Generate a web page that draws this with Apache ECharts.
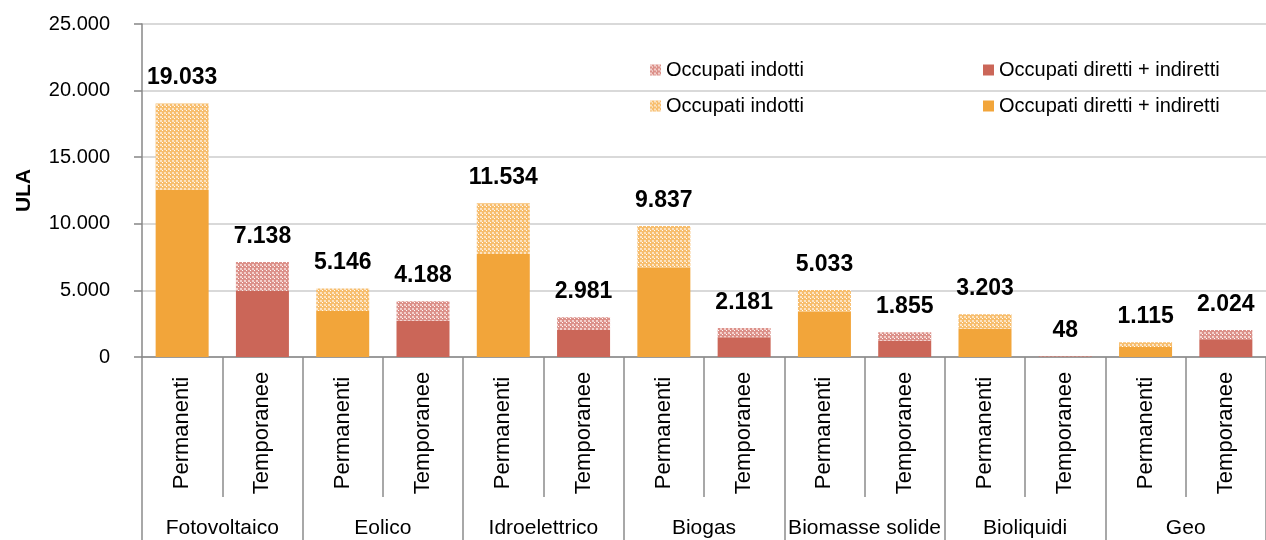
<!DOCTYPE html>
<html>
<head>
<meta charset="utf-8">
<script src="https://cdn.jsdelivr.net/npm/echarts@6/dist/echarts.min.js"></script>
<style>
  html, body { margin: 0; padding: 0; background: #fff; }
  #chart { width: 1266px; height: 540px; }
</style>
</head>
<body>
<div id="chart"></div>
<script>
// categorie
const tipi = ['Permanenti', 'Temporanee', 'Permanenti', 'Temporanee', 'Permanenti', 'Temporanee',
  'Permanenti', 'Temporanee', 'Permanenti', 'Temporanee', 'Permanenti', 'Temporanee', 'Permanenti', 'Temporanee'];
const fonti = ['Fotovoltaico', 'Eolico', 'Idroelettrico', 'Biogas', 'Biomasse solide', 'Bioliquidi', 'Geo'];

// totali (etichette) e occupati diretti + indiretti
const totali = [19033, 7138, 5146, 4188, 11534, 2981, 9837, 2181, 5033, 1855, 3203, 48, 1115, 2024];
const diretti = [12550, 4980, 3480, 2730, 7740, 2030, 6710, 1480, 3405, 1225, 2127, 30, 750, 1330];

const yTicks = [0, 5000, 10000, 15000, 20000, 25000];

const FONT = 'Liberation Sans';
const ARANCIO = '#F2A53A';
const ROSSO = '#CB6658';

// trama a scacchi per gli occupati indotti
function trama(base, chiaro) {
  const c = document.createElement('canvas');
  c.width = 4; c.height = 4;
  const ctx = c.getContext('2d');
  ctx.fillStyle = base;
  ctx.fillRect(0, 0, 4, 4);
  ctx.fillStyle = chiaro;
  ctx.fillRect(0, 0, 2, 2);
  ctx.fillStyle = '#ffffff';
  ctx.fillRect(2, 2, 1, 1);
  return { image: c, repeat: 'repeat' };
}

const fmt = n => String(n).replace(/\B(?=(\d{3})+(?!\d))/g, '.');

// divide i valori per tipo (Permanenti / Temporanee)
const perTipo = (arr, t) => arr.map((v, i) => tipi[i] === t ? v : '-');
const indotti = totali.map((v, i) => v - diretti[i]);

const nomi = {
  perm_dir: 'Occupati diretti + indiretti',
  perm_ind: 'Occupati indotti',
  temp_dir: 'Occupati diretti + indiretti',
  temp_ind: 'Occupati indotti'
};

const etichetta = {
  show: true,
  position: 'top',
  distance: 14,
  fontFamily: FONT,
  fontSize: 23,
  fontWeight: 'bold',
  color: '#000',
  formatter: p => fmt(totali[p.dataIndex])
};

const legenda = (nome, left, top) => ({
  data: [nome],
  left: left,
  top: top,
  itemWidth: 11,
  itemHeight: 11,
  icon: 'rect',
  formatter: n => nomi[n],
  textStyle: { fontFamily: FONT, fontSize: 20, color: '#000' }
});

const chart = echarts.init(document.getElementById('chart'));

const option = {
  animation: false,
  backgroundColor: '#fff',
  grid: { left: 142, right: 0, top: 24, bottom: 183, containLabel: false },
  legend: [
    legenda('temp_ind', 645, 55),
    legenda('temp_dir', 978, 55),
    legenda('perm_ind', 645, 91),
    legenda('perm_dir', 978, 91)
  ],
  xAxis: [
    {
      type: 'category',
      data: tipi,
      position: 'bottom',
      axisLine: { show: true, lineStyle: { color: '#878787', width: 1.5 } },
      axisTick: { show: true, alignWithLabel: false, interval: 0, length: 140, lineStyle: { color: '#8c8c8c', width: 1.5 } },
      axisLabel: {
        rotate: 90,
        align: 'center',
        verticalAlign: 'middle',
        margin: 76,
        interval: 0,
        fontFamily: FONT,
        fontSize: 22,
        color: '#000'
      }
    },
    {
      type: 'category',
      data: fonti,
      position: 'bottom',
      axisLine: { show: false },
      axisTick: { show: true, alignWithLabel: false, interval: 0, length: 183, lineStyle: { color: '#8c8c8c', width: 1.5 } },
      axisLabel: {
        margin: 171,
        verticalAlign: 'middle',
        interval: 0,
        fontFamily: FONT,
        fontSize: 21,
        color: '#000'
      }
    }
  ],
  yAxis: {
    type: 'value',
    min: yTicks[0],
    max: yTicks[yTicks.length - 1],
    interval: 5000,
    name: 'ULA',
    nameLocation: 'middle',
    nameRotate: 90,
    nameGap: 107,
    nameTextStyle: { fontFamily: FONT, fontSize: 21, fontWeight: 'bold', color: '#000' },
    axisLine: { show: true, lineStyle: { color: '#878787', width: 1.5 } },
    axisTick: { show: true, length: 8, lineStyle: { color: '#878787', width: 1.5 } },
    axisLabel: {
      margin: 32,
      fontFamily: FONT,
      fontSize: 20,
      color: '#000',
      formatter: v => fmt(v)
    },
    splitLine: { lineStyle: { color: '#D9D9D9', width: 2 } }
  },
  series: [
    {
      name: 'perm_dir', type: 'bar', stack: 'tot', barWidth: 53,
      data: perTipo(diretti, 'Permanenti'),
      itemStyle: { color: ARANCIO }
    },
    {
      name: 'perm_ind', type: 'bar', stack: 'tot', barWidth: 53,
      data: perTipo(indotti, 'Permanenti'),
      itemStyle: { color: trama('#F7BE6E', '#FCE3C2') },
      label: etichetta
    },
    {
      name: 'temp_dir', type: 'bar', stack: 'tot', barWidth: 53,
      data: perTipo(diretti, 'Temporanee'),
      itemStyle: { color: ROSSO }
    },
    {
      name: 'temp_ind', type: 'bar', stack: 'tot', barWidth: 53,
      data: perTipo(indotti, 'Temporanee'),
      itemStyle: { color: trama('#DC918A', '#F3D0CC') },
      label: etichetta
    }
  ]
};

chart.setOption(option);
</script>
</body>
</html>
